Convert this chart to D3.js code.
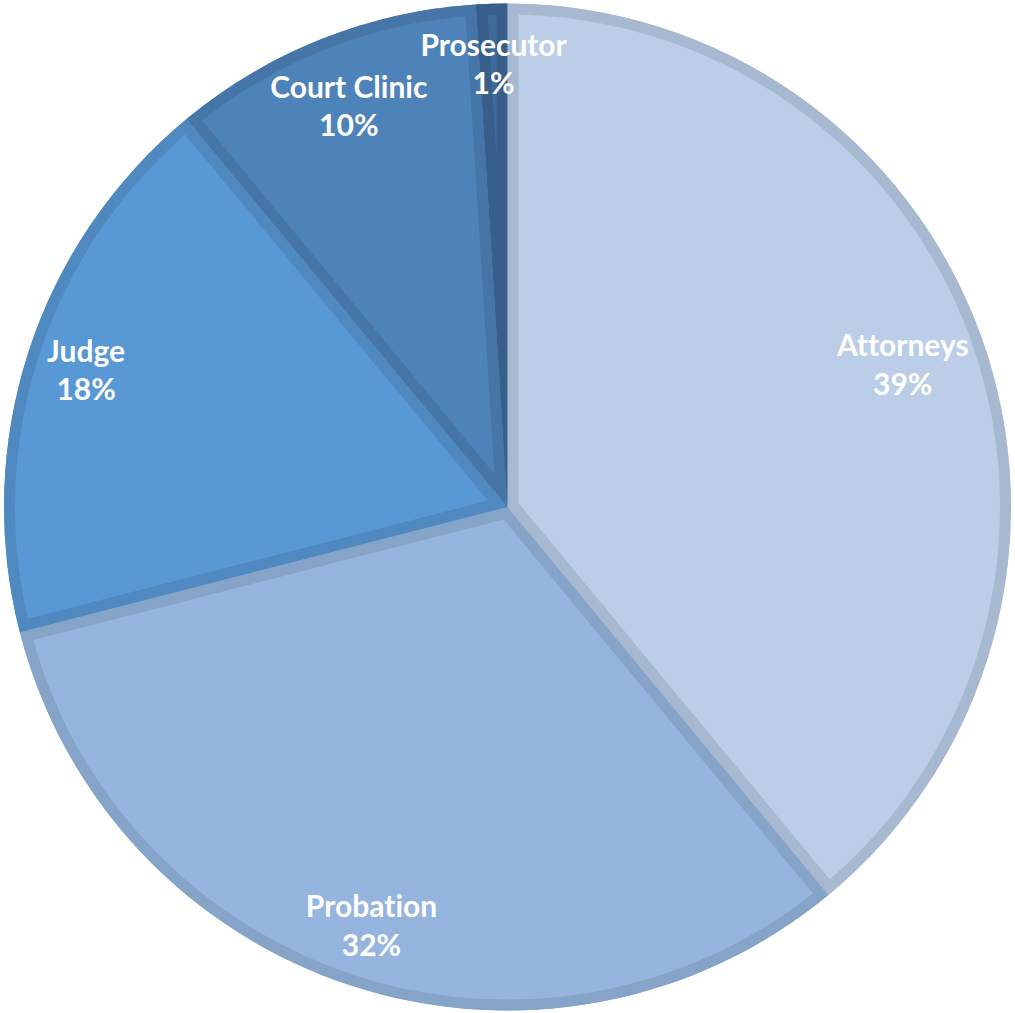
<!DOCTYPE html>
<html>
<head>
<meta charset="utf-8">
<script src="https://cdn.jsdelivr.net/npm/d3@7"></script>
<style>
  html, body { margin: 0; padding: 0; background: #ffffff; }
  svg { display: block; }
</style>
</head>
<body>
<svg id="chart" width="1015" height="1013"></svg>
<script>
// Share of responses by role
const categories = ["Attorneys", "Probation", "Judge", "Court Clinic", "Prosecutor"];
const shares = [39, 32, 18, 10, 1];
const fills = ["#BCCDE7", "#95B5DE", "#5898D5", "#4D83B9", "#3E6B9C"];
const borders = ["#A7B8D1", "#86A3C8", "#4F89BF", "#4676A7", "#385F8B"];

const width = 1015, height = 1013;
const cx = 507.5, cy = 507, radius = 503.5;
const borderWidth = 11;

const svg = d3.select("#chart");
const g = svg.append("g").attr("transform", `translate(${cx},${cy})`);

const data = categories.map((c, i) => ({ name: c, value: shares[i], i }));
const pie = d3.pie().sort(null).value(d => d.value).startAngle(0).endAngle(2 * Math.PI);
const arcs = pie(data);
const arc = d3.arc().innerRadius(0).outerRadius(radius);

const defs = svg.append("defs");
arcs.forEach((a, k) => {
  defs.append("clipPath").attr("id", "slice-clip-" + k)
    .append("path").attr("d", arc(a));
});

// Each slice keeps its border on the inside of its own outline
const slices = g.selectAll("g.slice").data(arcs).join("g").attr("class", "slice");
slices.append("path")
  .attr("d", arc)
  .attr("fill", d => fills[d.data.i]);
slices.append("path")
  .attr("d", arc)
  .attr("fill", "none")
  .attr("stroke", d => borders[d.data.i])
  .attr("stroke-width", borderWidth * 2)
  .attr("stroke-linejoin", "miter")
  .attr("clip-path", (d, k) => `url(#slice-clip-${k})`);

// Labels: name on the first line, percentage on the second
const fontSize = 30, lineGap = 38.5, capHeight = 0.72 * fontSize;
const total = d3.sum(shares);
const fmt = v => Math.round(v / total * 100) + "%";

const labels = g.selectAll("text.label").data(arcs).join("text")
  .attr("class", "label")
  .attr("text-anchor", "middle")
  .attr("fill", "#ffffff")
  .style("font-family", "Lato, 'Open Sans', sans-serif")
  .style("font-weight", "bold")
  .style("font-variant-ligatures", "none")
  .style("font-size", fontSize + "px");

labels.append("tspan").attr("x", 0).attr("dy", 0).text(d => d.data.name);
labels.append("tspan").attr("x", 0).attr("dy", lineGap).text(d => fmt(d.data.value));

// Place each label along its slice bisector, pulled inward until the glyph block fits inside the border
const limit = radius - borderWidth;
labels.each(function(d) {
  const el = d3.select(this);
  let w = 0;
  el.selectAll("tspan").each(function() { w = Math.max(w, this.getComputedTextLength()); });
  const h = lineGap + capHeight;
  const centreOffset = (lineGap - capHeight) / 2; // block centre relative to first baseline
  const mid = (d.startAngle + d.endAngle) / 2;
  const fits = rr => {
    const px = Math.sin(mid) * rr, py = -Math.cos(mid) * rr;
    const x0 = px - w / 2, x1 = px + w / 2;
    const y0 = py - h / 2, y1 = py + h / 2;
    return [[x0, y0], [x1, y0], [x0, y1], [x1, y1]].every(([x, y]) => Math.hypot(x, y) <= limit);
  };
  let r = radius * 0.88;
  while (r > 0 && !fits(r)) r -= 1;
  const px = Math.sin(mid) * r, py = -Math.cos(mid) * r;
  el.attr("transform", `translate(${px},${py - centreOffset})`);
});
</script>
</body>
</html>
